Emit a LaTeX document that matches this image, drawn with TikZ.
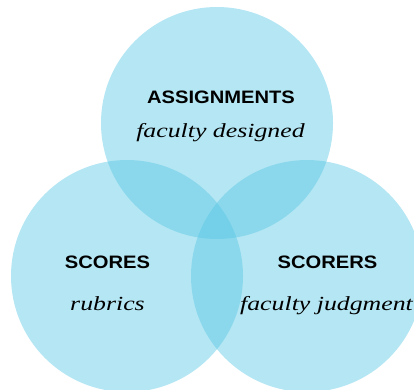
\documentclass[tikz,border=0pt]{standalone}
\usepackage{fontspec}
\newfontfamily\headfont[FakeStretch=1.12]{Liberation Sans}
\newfontfamily\subfont[FakeStretch=1.29]{Liberation Serif}
\definecolor{venn}{RGB}{89,199,228}
\tikzset{
  vcircle/.style={fill=venn, fill opacity=0.45, draw=none},
  head/.style={anchor=base, inner sep=0pt, font=\headfont\bfseries\fontsize{18}{20}\selectfont},
  sub/.style={anchor=base, inner sep=0pt, font=\subfont\itshape\fontsize{20}{22}\selectfont}
}
\begin{document}
\begin{tikzpicture}[x=1pt,y=-1pt]
\useasboundingbox (0,0) rectangle (414,389);
\clip (0,0) rectangle (414,389);
\fill[vcircle] (217,123) circle[radius=116];
\fill[vcircle] (127,276) circle[radius=116];
\fill[vcircle] (307,276) circle[radius=116];
\node[head] (ta) at (221,103) {ASSIGNMENTS};
\node[sub]  (tb) at (220.5,137) {faculty designed};
\node[head] (la) at (107.5,268) {SCORES};
\node[sub]  (lb) at (107.5,310) {rubrics};
\node[head] (ra) at (327.5,268) {SCORERS};
\node[sub]  (rb) at (326.5,310) {faculty judgment};
\end{tikzpicture}
\end{document}
